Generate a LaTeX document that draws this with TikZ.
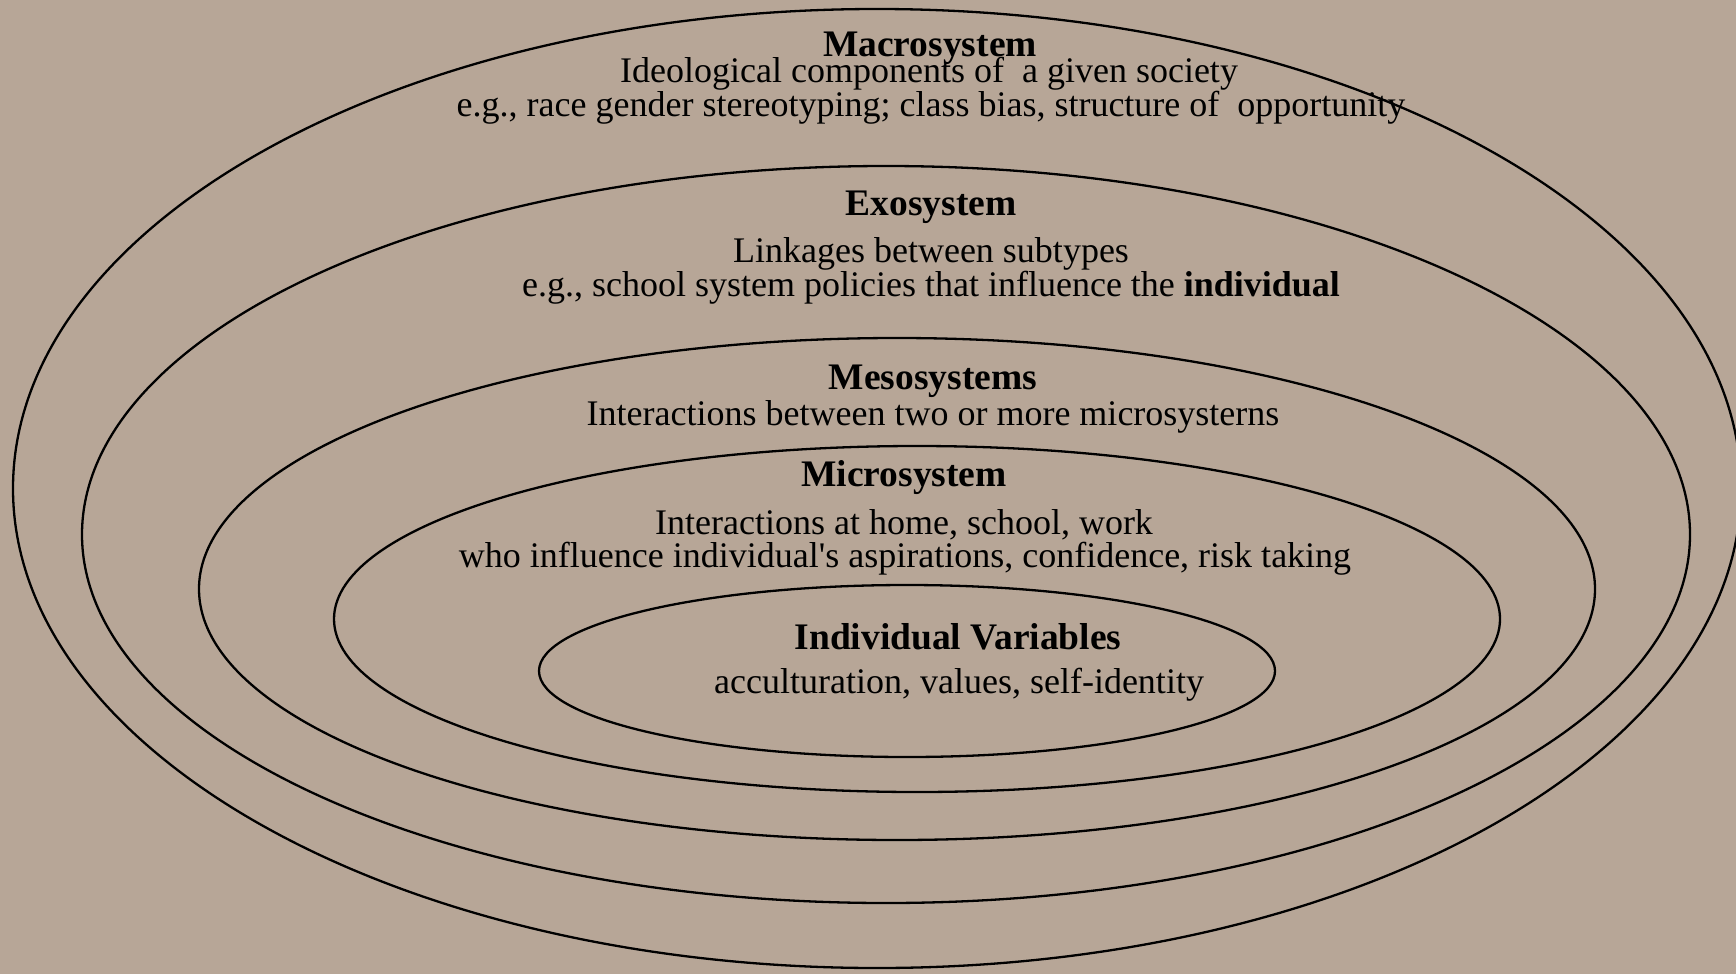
\documentclass[tikz,border=0pt]{standalone}
\usepackage{fontspec}
\setmainfont{Liberation Serif}[Ligatures=TeXOff]
\definecolor{bgbrown}{RGB}{183,166,151}
\begin{document}
\begin{tikzpicture}[x=1pt,y=-1pt,
  ring/.style={draw=black,line width=2.3pt},
  ttl/.style={font=\fontsize{37.5}{40}\selectfont\bfseries,inner sep=0pt,anchor=center},
  txt/.style={font=\fontsize{36}{40}\selectfont,inner sep=0pt,anchor=center}]
\fill[bgbrown] (0,0) rectangle (1736,974);
\useasboundingbox (0,0) rectangle (1736,974);
% ellipses
\draw[ring] (877,488.5) ellipse [x radius=864pt, y radius=479.5pt];
\draw[ring] (886,534.5) ellipse [x radius=804pt, y radius=368.5pt];
\draw[ring] (897,589) ellipse [x radius=698pt, y radius=251pt];
\draw[ring] (917,619) ellipse [x radius=583pt, y radius=173pt];
\draw[ring] (907,671) ellipse [x radius=368pt, y radius=86pt];
% texts
\node[ttl] (macT) at (930,48) {Macrosystem};
\node[txt] (macA) at (929,74) {Ideological components of\hspace{0.25em} a given society};
\node[txt] (macB) at (931,108) {e.g., race gender stereotyping; class bias, structure of\hspace{0.25em} opportunity};
\node[ttl] (exoT) at (931,207) {Exosystem};
\node[txt] (exoA) at (931,254) {Linkages between subtypes};
\node[txt] (exoB) at (931,288) {e.g., school system policies that influence the \textbf{individual}};
\node[ttl] (mesT) at (933,381) {Mesosystems};
\node[txt] (mesA) at (933,417) {Interactions between two or more microsysterns};
\node[ttl] (micT) at (904,478) {Microsystem};
\node[txt] (micA) at (904,525) {Interactions at home, school, work};
\node[txt] (micB) at (905,559) {who influence individual's aspirations, confidence, risk taking};
\node[ttl] (indT) at (958,637) {Individual Variables};
\node[txt] (indA) at (959,685) {acculturation, values, self-identity};
\end{tikzpicture}
\end{document}
